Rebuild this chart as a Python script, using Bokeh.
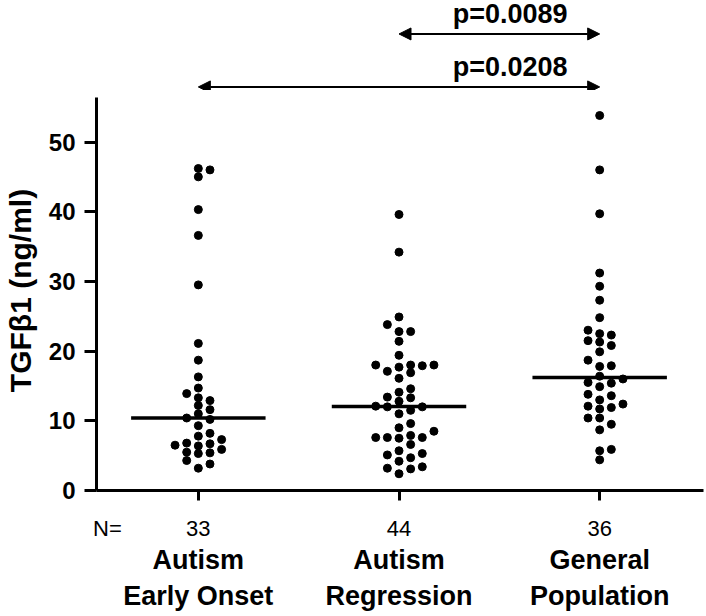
import numpy as np
from bokeh.plotting import figure
from bokeh.layouts import column
from bokeh.models import (Range1d, FixedTicker, LinearAxis, Arrow, NormalHead,
                          ColumnDataSource)
from bokeh.core.properties import value
from bokeh.embed import file_html
from bokeh.resources import INLINE

# ---------------- data ----------------
group_labels = ["Autism\nEarly Onset", "Autism\nRegression", "General\nPopulation"]
early_onset = [46.2, 46.0, 45.0, 40.3, 36.6, 29.5, 21.1, 18.7, 16.3, 14.7, 13.9,
               13.3, 12.9, 12.2, 11.6, 11.0, 10.4, 10.2, 9.3, 8.2, 7.8, 7.3,
               6.8, 6.7, 6.5, 6.4, 5.9, 5.5, 5.4, 5.3, 4.3, 3.8, 3.2]
regression = [39.6, 34.2, 24.9, 23.8, 22.8, 22.8, 21.4, 19.4, 18.0, 18.0, 18.0,
              17.9, 17.7, 17.1, 16.9, 16.1, 14.6, 14.1, 13.4, 13.3, 12.8, 12.1,
              12.0, 12.0, 11.5, 11.0, 9.6, 9.0, 8.5, 7.9, 7.6, 7.6, 7.6, 7.5,
              6.6, 5.7, 5.3, 5.1, 4.7, 4.2, 3.4, 3.2, 3.1, 2.4]
general = [53.8, 46.0, 39.7, 31.2, 29.3, 27.3, 24.8, 23.0, 22.5, 22.3, 21.5,
           21.3, 20.8, 19.9, 18.7, 17.9, 17.8, 16.4, 16.0, 15.5, 15.4, 14.9,
           13.8, 13.6, 13.0, 12.4, 12.1, 11.9, 11.7, 10.4, 10.4, 9.5, 8.7,
           5.9, 5.7, 4.4]
series = [early_onset, regression, general]
comparisons = [(2, 3, "p=0.0089"), (1, 3, "p=0.0208")]
y_ticks = [0, 10, 20, 30, 40, 50]
y_title = "TGFβ1 (ng/ml)"
n_prefix = "N="

# ---------------- layout / style ----------------
FONT = "Liberation Sans"
SLOT = 0.058          # horizontal spacing of swarm columns (x units)
GAP = 1.1             # min vertical distance inside a column (y units)
Y_TOP = 56.4          # top of drawn y axis
PX_PER_Y = 6.97
X0 = 0.4925
X1 = X0 + 608 / 201
N_POS = 0.547
TOP_H = 90            # height of the strip holding the comparison arrows
MAIN_H = 526
BOTTOM = 126
Y_SPLIT = (MAIN_H - BOTTOM) / PX_PER_Y
Y_MAX = Y_SPLIT + TOP_H / PX_PER_Y


def swarm_slots(vals, gap):
    vals = np.asarray(vals, dtype=float)
    order = np.argsort(vals, kind="stable")
    placed = {}
    slots = np.zeros(len(vals))
    cands = [0]
    for k in range(1, 12):
        cands += [k, -k]
    for idx in order:
        y = vals[idx]
        for s in cands:
            if all(abs(y - yy) >= gap for yy in placed.get(s, [])):
                placed.setdefault(s, []).append(y)
                slots[idx] = s
                break
    return slots


x_range = Range1d(X0, X1)


def base_fig(height, y_range, bottom):
    f = figure(width=706, height=height, output_backend="svg",
               toolbar_location=None, x_range=x_range, y_range=y_range,
               x_axis_location=None, y_axis_location=None,
               min_border_left=95, min_border_right=3, min_border_top=0,
               min_border_bottom=bottom)
    f.outline_line_color = None
    f.grid.visible = False
    f.background_fill_color = "white"
    f.border_fill_color = "white"
    return f


# ---- top strip: comparison arrows ----
top = base_fig(TOP_H, Range1d(Y_SPLIT, Y_MAX), 0)
arrow_levels = [65.5, 57.9]
for (a, b, txt), lvl in zip(comparisons, arrow_levels):
    top.add_layout(Arrow(x_start=a, y_start=lvl, x_end=b, y_end=lvl,
                         line_width=2, line_color="black",
                         start=NormalHead(size=12, fill_color="black", line_color="black"),
                         end=NormalHead(size=12, fill_color="black", line_color="black")))
    top.text(x=[b - 0.16], y=[lvl + 0.7], text=[txt], text_font=value(FONT),
             text_font_size="27px", text_font_style="bold", text_align="right",
             text_baseline="bottom", text_color="black")

# ---- main plot ----
p = base_fig(MAIN_H, Range1d(0, Y_SPLIT), BOTTOM)

yaxis = LinearAxis(ticker=FixedTicker(ticks=y_ticks), bounds=(0, Y_TOP),
                   axis_line_width=3, axis_line_color="black",
                   major_tick_line_width=3, major_tick_out=12, major_tick_in=0,
                   minor_tick_line_color=None,
                   major_label_text_font=FONT, major_label_text_font_style="bold",
                   major_label_text_font_size="24px", major_label_standoff=9,
                   major_label_text_color="black",
                   axis_label=y_title, axis_label_text_font=FONT,
                   axis_label_text_font_size="30px",
                   axis_label_text_font_style="bold",
                   axis_label_text_color="black", axis_label_standoff=9)
p.add_layout(yaxis, "left")

cats = [1, 2, 3]
# axis line + ticks only
xaxis0 = LinearAxis(ticker=FixedTicker(ticks=cats), bounds=(X0, X1),
                    axis_line_width=3, axis_line_color="black",
                    major_tick_line_width=3, major_tick_out=10, major_tick_in=0,
                    minor_tick_line_color=None,
                    major_label_text_alpha=0, major_label_text_font_size="1px",
                    major_label_standoff=0)
p.add_layout(xaxis0, "below")

# N row
n_labels = {N_POS: n_prefix}
n_labels.update({c: str(len(s)) for c, s in zip(cats, series)})
xaxis1 = LinearAxis(ticker=FixedTicker(ticks=[N_POS] + cats),
                    axis_line_color=None, major_tick_line_color=None,
                    minor_tick_line_color=None,
                    major_label_overrides=n_labels,
                    major_label_text_font=FONT, major_label_text_font_size="22px",
                    major_label_standoff=9, major_label_text_color="black")
p.add_layout(xaxis1, "below")

# group names
xaxis2 = LinearAxis(ticker=FixedTicker(ticks=cats),
                    axis_line_color=None, major_tick_line_color=None,
                    minor_tick_line_color=None,
                    major_label_overrides={c: g for c, g in zip(cats, group_labels)},
                    major_label_text_font=FONT, major_label_text_font_style="bold",
                    major_label_text_font_size="27px", major_label_standoff=-5,
                    major_label_text_color="black")
p.add_layout(xaxis2, "below")

for c, vals in zip(cats, series):
    slots = swarm_slots(vals, GAP)
    src = ColumnDataSource(dict(x=c + slots * SLOT, y=vals))
    p.scatter("x", "y", source=src, size=8, color="black")
    med = float(np.median(vals))
    p.segment(x0=[c - 0.335], x1=[c + 0.335], y0=[med], y1=[med],
              line_width=3.5, line_color="black")

layout = column(top, p, spacing=0)
open("out.html", "w").write(file_html(layout, INLINE))
